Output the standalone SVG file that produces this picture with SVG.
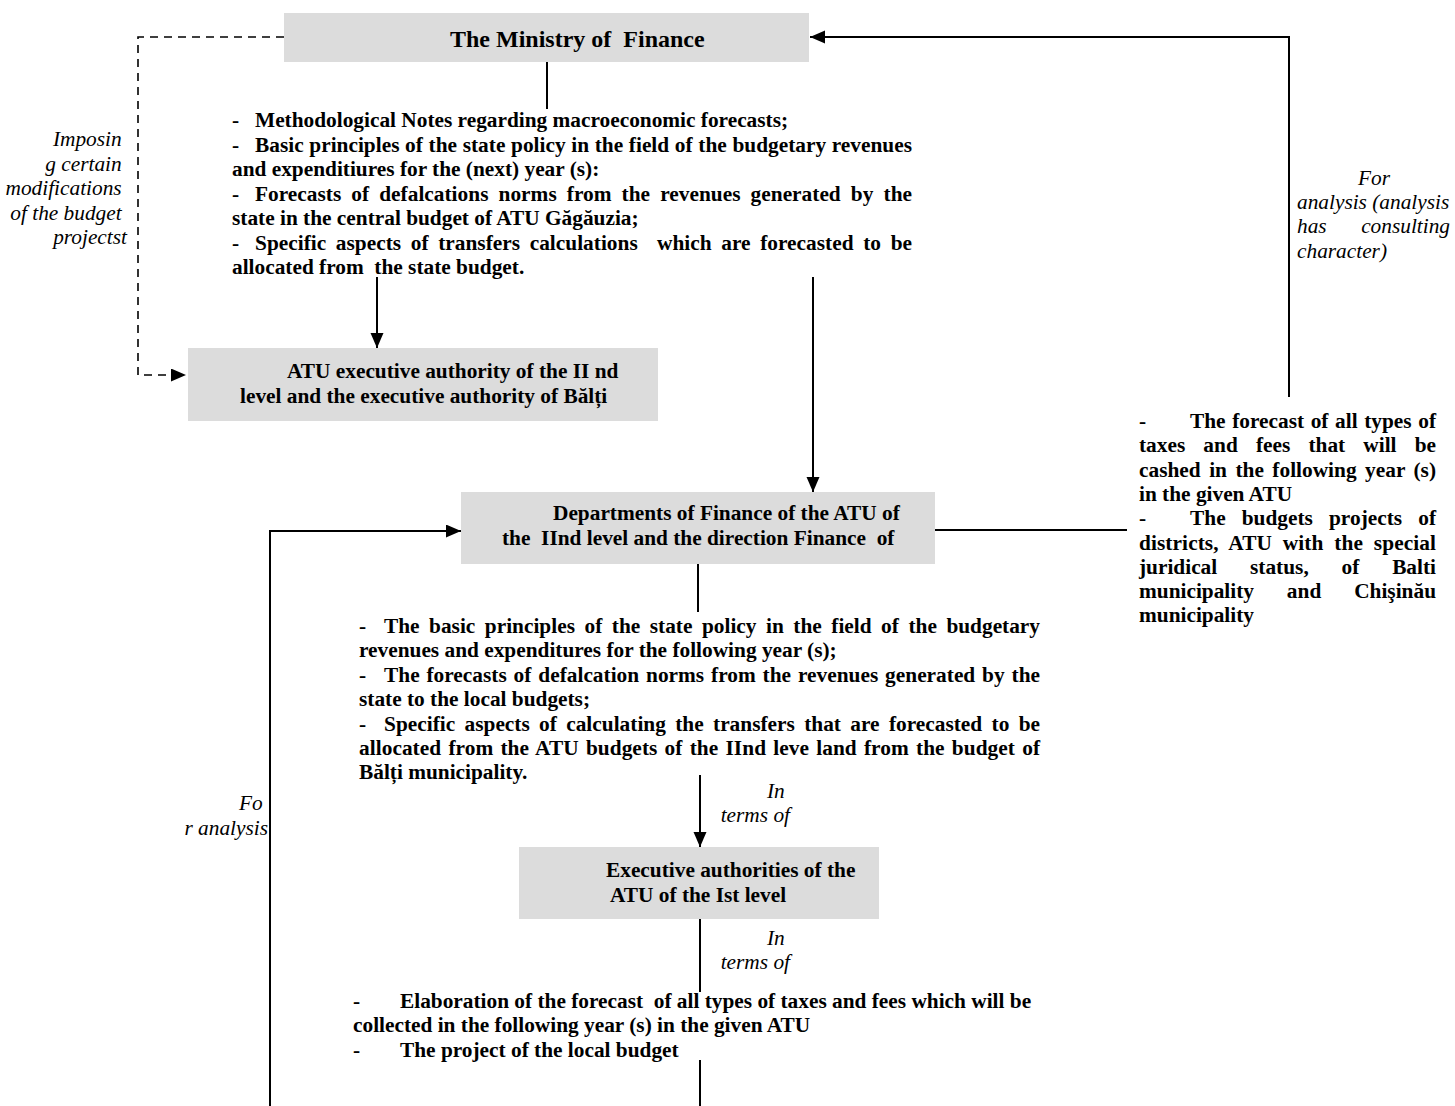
<svg xmlns="http://www.w3.org/2000/svg" width="1455" height="1106" viewBox="0 0 1455 1106">
<style>
.t{font-family:"Liberation Serif","Times New Roman",serif;font-weight:bold;font-size:21.33px;fill:#000}
.it{font-family:"Liberation Serif","Times New Roman",serif;font-style:italic;font-size:21.33px;fill:#000}
.title{font-size:24px}
.box{fill:#dcdcdc}
.ln{stroke:#000;stroke-width:2;fill:none}
.dash{stroke:#000;stroke-width:1.6;fill:none;stroke-dasharray:8 6}
</style>
<defs>
<marker id="ah" markerUnits="userSpaceOnUse" markerWidth="16" markerHeight="14" refX="15" refY="6.5" orient="auto">
<path d="M0,0 L15,6.5 L0,13 Z" fill="#000"/>
</marker>
</defs>
<rect width="1455" height="1106" fill="#fff"/>

<g id="connectors">
<line class="ln" x1="547" y1="62" x2="547" y2="109"/>
<line class="ln" x1="377" y1="277" x2="377" y2="348" marker-end="url(#ah)"/>
<polyline class="dash" points="284,37 138,37 138,375 186,375" marker-end="url(#ah)"/>
<line class="ln" x1="813" y1="277" x2="813" y2="492" marker-end="url(#ah)"/>
<polyline class="ln" points="1289,397 1289,37 810,37" marker-end="url(#ah)"/>
<line class="ln" x1="935" y1="530" x2="1127" y2="530"/>
<polyline class="ln" points="270,1106 270,531 461,531" marker-end="url(#ah)"/>
<line class="ln" x1="698" y1="564" x2="698" y2="612"/>
<line class="ln" x1="700" y1="775" x2="700" y2="847" marker-end="url(#ah)"/>
<line class="ln" x1="700" y1="919" x2="700" y2="992"/>
<line class="ln" x1="700" y1="1060" x2="700" y2="1106"/>
</g>

<g id="ministry">
<rect class="box" x="284" y="13" width="525" height="49"/>
<text class="t title" x="450" y="47" xml:space="preserve">The Ministry of  Finance</text>
</g>

<g id="ministry-notes">
<text class="t" x="232" y="127">-</text>
<text class="t" x="255" y="127">Methodological Notes regarding macroeconomic forecasts;</text>
<text class="t" x="232" y="151.5">-</text>
<text class="t" x="255" y="151.5" style="word-spacing:0.33px" textLength="657" lengthAdjust="spacing">Basic principles of the state policy in the field of the budgetary revenues</text>
<text class="t" x="232" y="176">and expenditiures for the (next) year (s):</text>
<text class="t" x="232" y="200.5">-</text>
<text class="t" x="255" y="200.5" style="word-spacing:4.75px" textLength="657" lengthAdjust="spacing">Forecasts of defalcations norms from the revenues generated by the</text>
<text class="t" x="232" y="225">state in the central budget of ATU Găgăuzia;</text>
<text class="t" x="232" y="249.5">-</text>
<text class="t" x="255" y="249.5" xml:space="preserve" style="word-spacing:4.33px" textLength="657" lengthAdjust="spacing">Specific aspects of transfers calculations  which are forecasted to be</text>
<text class="t" x="232" y="274" xml:space="preserve">allocated from  the state budget.</text>
</g>

<g id="imposing-label">
<text class="it" text-anchor="end">
<tspan x="127" y="146">Imposin</tspan>
<tspan x="127" y="170.5">g certain</tspan>
<tspan x="127" y="195">modifications</tspan>
<tspan x="127" y="219.5">of the budget</tspan>
<tspan x="127" y="244">projectst</tspan>
</text>
</g>

<g id="atu-executive-2">
<rect class="box" x="188" y="348" width="470" height="73"/>
<text class="t" x="287" y="378">ATU executive authority of the II nd</text>
<text class="t" x="240" y="403">level and the executive authority of Bălți</text>
</g>

<g id="for-analysis-label">
<text class="it" x="1358" y="185">For</text>
<text class="it" x="1297" y="209">analysis (analysis</text>
<text class="it" x="1297" y="233">has</text>
<text class="it" x="1450" y="233" text-anchor="end">consulting</text>
<text class="it" x="1297" y="258">character)</text>
</g>

<g id="forecast-notes">
<text class="t" x="1139" y="428">-</text>
<text class="t" x="1190" y="428" style="word-spacing:1.22px" textLength="246" lengthAdjust="spacing">The forecast of all types of</text>
<text class="t" x="1139" y="452" style="word-spacing:12.8px" textLength="297" lengthAdjust="spacing">taxes and fees that will be</text>
<text class="t" x="1139" y="476.5" style="word-spacing:3.12px" textLength="297" lengthAdjust="spacing">cashed in the following year (s)</text>
<text class="t" x="1139" y="501">in the given ATU</text>
<text class="t" x="1139" y="525">-</text>
<text class="t" x="1190" y="525" style="word-spacing:10.7px" textLength="246" lengthAdjust="spacing">The budgets projects of</text>
<text class="t" x="1139" y="549.5" style="word-spacing:5.4px" textLength="297" lengthAdjust="spacing">districts, ATU with the special</text>
<text class="t" x="1139" y="573.5" style="word-spacing:27.5px" textLength="297" lengthAdjust="spacing">juridical status, of Balti</text>
<text class="t" x="1139" y="598" style="word-spacing:27.6px" textLength="297" lengthAdjust="spacing">municipality and Chişinău</text>
<text class="t" x="1139" y="622">municipality</text>
</g>

<g id="finance-departments">
<rect class="box" x="461" y="492" width="474" height="72"/>
<text class="t" x="553" y="520">Departments of Finance of the ATU of</text>
<text class="t" x="502" y="545" xml:space="preserve">the  IInd level and the direction Finance  of</text>
</g>

<g id="departments-notes">
<text class="t" x="359" y="633">-</text>
<text class="t" x="384" y="633" style="word-spacing:4.2px" textLength="656" lengthAdjust="spacing">The basic principles of the state policy in the field of the budgetary</text>
<text class="t" x="359" y="657.4">revenues and expenditures for the following year (s);</text>
<text class="t" x="359" y="681.8">-</text>
<text class="t" x="384" y="681.8" style="word-spacing:1.5px" textLength="656" lengthAdjust="spacing">The forecasts of defalcation norms from the revenues generated by the</text>
<text class="t" x="359" y="706.2">state to the local budgets;</text>
<text class="t" x="359" y="730.6">-</text>
<text class="t" x="384" y="730.6" style="word-spacing:3.99px" textLength="656" lengthAdjust="spacing">Specific aspects of calculating the transfers that are forecasted to be</text>
<text class="t" x="359" y="755" style="word-spacing:1.85px" textLength="681" lengthAdjust="spacing">allocated from the ATU budgets of the IInd leve land from the budget of</text>
<text class="t" x="359" y="779.4">Bălți municipality.</text>
</g>

<g id="for-analysis-left">
<text class="it" text-anchor="end">
<tspan x="268" y="810">Fo</tspan>
<tspan x="268" y="835">r analysis</tspan>
</text>
</g>

<g id="in-terms-1">
<text class="it" text-anchor="end">
<tspan x="790" y="798">In</tspan>
<tspan x="790" y="822">terms of</tspan>
</text>
</g>

<g id="atu-executive-1">
<rect class="box" x="519" y="847" width="360" height="72"/>
<text class="t" x="606" y="877">Executive authorities of the</text>
<text class="t" x="610" y="902">ATU of the Ist level</text>
</g>

<g id="in-terms-2">
<text class="it" text-anchor="end">
<tspan x="790" y="945">In</tspan>
<tspan x="790" y="969">terms of</tspan>
</text>
</g>

<g id="local-notes">
<text class="t" x="353" y="1008">-</text>
<text class="t" x="400" y="1008" xml:space="preserve">Elaboration of the forecast  of all types of taxes and fees which will be</text>
<text class="t" x="353" y="1032">collected in the following year (s) in the given ATU</text>
<text class="t" x="353" y="1057">-</text>
<text class="t" x="400" y="1057">The project of the local budget</text>
</g>
</svg>
